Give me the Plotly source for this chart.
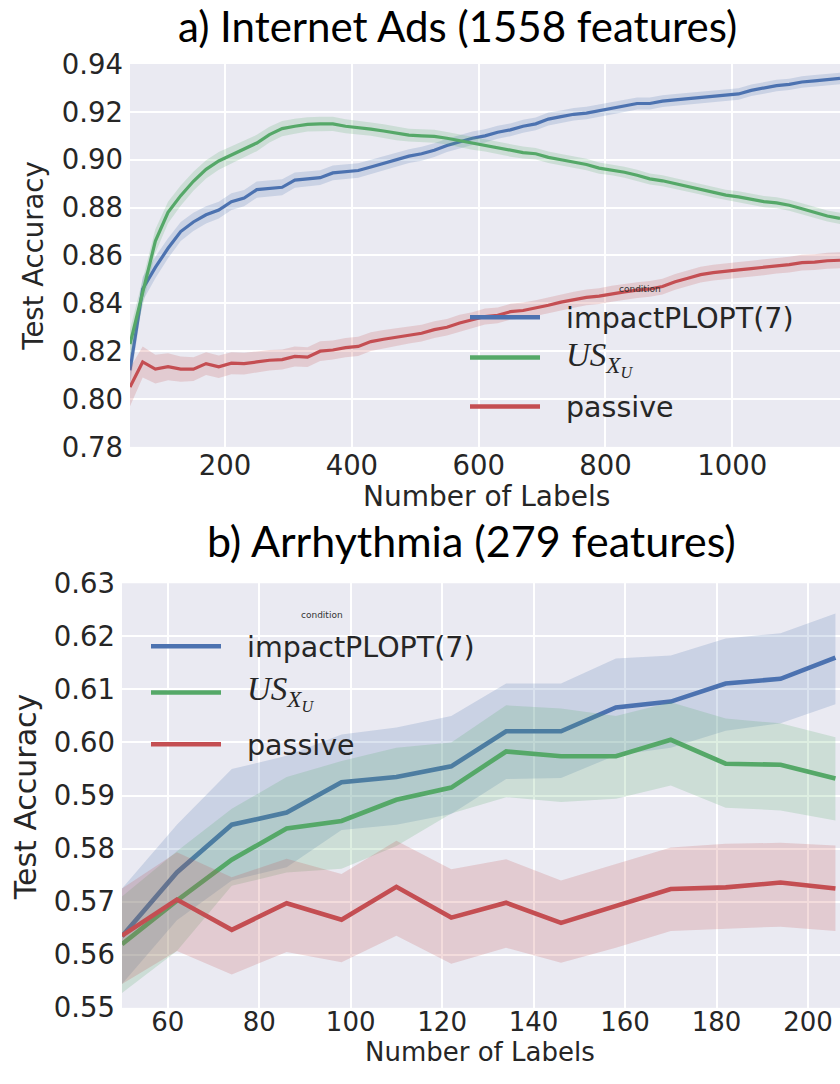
import plotly.graph_objects as go

# ---------------- a) Internet Ads ----------------
labels_a = list(range(50, 1171, 20))

impact_a = [0.812, 0.846, 0.855, 0.863, 0.870, 0.874, 0.877, 0.879, 0.8825, 0.884,
            0.8875, 0.888, 0.8885, 0.8915, 0.892, 0.8925, 0.8945, 0.895, 0.8955, 0.897,
            0.8985, 0.900, 0.9015, 0.9025, 0.904, 0.906, 0.9075, 0.909, 0.910, 0.9115,
            0.9125, 0.914, 0.915, 0.917, 0.918, 0.919, 0.9195, 0.9205, 0.9215, 0.9225,
            0.9235, 0.9235, 0.9245, 0.925, 0.9255, 0.926, 0.9265, 0.927, 0.9275, 0.929,
            0.930, 0.931, 0.9315, 0.9325, 0.933, 0.9335, 0.934]
impact_a_ci = [0.006, 0.005, 0.0045, 0.0042, 0.004, 0.0038, 0.0036, 0.0035, 0.0035, 0.0034,
               0.0034, 0.0033, 0.0033, 0.0032, 0.0032, 0.0031, 0.0031, 0.003, 0.003, 0.003,
               0.003, 0.003, 0.0029, 0.0029, 0.0029, 0.0028, 0.0028, 0.0028, 0.0028, 0.0027,
               0.0027, 0.0027, 0.0027, 0.0027, 0.0026, 0.0026, 0.0026, 0.0026, 0.0026, 0.0025,
               0.0025, 0.0025, 0.0025, 0.0025, 0.0025, 0.0025, 0.0024, 0.0024, 0.0024, 0.0024,
               0.0024, 0.0024, 0.0024, 0.0024, 0.0024, 0.0024, 0.0024]

us_a = [0.823, 0.845, 0.866, 0.878, 0.885, 0.891, 0.896, 0.8995, 0.902, 0.9045,
        0.907, 0.9105, 0.913, 0.914, 0.9148, 0.915, 0.915, 0.914, 0.9135, 0.9128,
        0.912, 0.911, 0.9103, 0.910, 0.9098, 0.909, 0.908, 0.9068, 0.906, 0.905,
        0.9038, 0.903, 0.9025, 0.901, 0.900, 0.899, 0.898, 0.8965, 0.8958, 0.8948,
        0.8935, 0.892, 0.8912, 0.890, 0.889, 0.8878, 0.8865, 0.8852, 0.8845, 0.8835,
        0.8825, 0.882, 0.881, 0.8795, 0.878, 0.8765, 0.8755]
us_a_ci = [0.006, 0.0055, 0.005, 0.0045, 0.0042, 0.004, 0.0038, 0.0037, 0.0036, 0.0035,
           0.0034, 0.0033, 0.0032, 0.0031, 0.003, 0.003, 0.003, 0.0029, 0.0029, 0.0028,
           0.0028, 0.0028, 0.0027, 0.0027, 0.0027, 0.0026, 0.0026, 0.0026, 0.0025, 0.0025,
           0.0025, 0.0025, 0.0024, 0.0024, 0.0024, 0.0024, 0.0024, 0.0023, 0.0023, 0.0023,
           0.0023, 0.0023, 0.0023, 0.0023, 0.0023, 0.0023, 0.0023, 0.0023, 0.0023, 0.0023,
           0.0023, 0.0023, 0.0023, 0.0023, 0.0023, 0.0023, 0.0023]

passive_a = [0.805, 0.8155, 0.8125, 0.8135, 0.8125, 0.8125, 0.8148, 0.8135, 0.815, 0.8148,
             0.8155, 0.8162, 0.8165, 0.8178, 0.8175, 0.820, 0.8205, 0.8215, 0.822, 0.824,
             0.825, 0.8258, 0.8268, 0.8275, 0.829, 0.830, 0.8318, 0.833, 0.8345, 0.835,
             0.8365, 0.837, 0.838, 0.8392, 0.8405, 0.8415, 0.8425, 0.843, 0.844, 0.8448,
             0.8455, 0.846, 0.847, 0.849, 0.8505, 0.852, 0.8528, 0.8535, 0.854, 0.8545,
             0.855, 0.8558, 0.8562, 0.857, 0.8572, 0.8578, 0.858]
passive_a_ci = [0.008, 0.0065, 0.006, 0.0056, 0.0053, 0.005, 0.0048, 0.0047, 0.0046, 0.0045,
                0.0044, 0.0043, 0.0042, 0.0042, 0.0041, 0.0041, 0.004, 0.004, 0.004, 0.0039,
                0.0038, 0.0037, 0.0036, 0.0035, 0.0035, 0.0034, 0.0034, 0.0033, 0.0033, 0.0033,
                0.0033, 0.0033, 0.0033, 0.0033, 0.0033, 0.0033, 0.0033, 0.0033, 0.0033, 0.0033,
                0.0033, 0.0033, 0.0033, 0.0033, 0.0033, 0.0033, 0.0033, 0.0033, 0.0033, 0.0033,
                0.0033, 0.0033, 0.0033, 0.0033, 0.0033, 0.0033, 0.0033]

ticks_a_x = [200, 400, 600, 800, 1000]
ticks_a_y = [0.78, 0.80, 0.82, 0.84, 0.86, 0.88, 0.90, 0.92, 0.94]

# ---------------- b) Arrhythmia ----------------
labels_b = [50, 62, 74, 86, 98, 110, 122, 134, 146, 158, 170, 182, 194, 206]

impact_b = [0.5635, 0.5755, 0.5845, 0.5868, 0.5925, 0.5935, 0.5955, 0.6021, 0.6021, 0.6066,
            0.6077, 0.6111, 0.612, 0.616]
impact_b_hi = [0.5725, 0.5845, 0.5950, 0.5975, 0.6015, 0.6028, 0.6050, 0.6111, 0.6111, 0.6158,
               0.6164, 0.6196, 0.6206, 0.6243]
impact_b_lo = [0.5545, 0.5665, 0.5740, 0.5765, 0.5835, 0.5845, 0.5865, 0.5931, 0.5933, 0.5976,
               0.5990, 0.6022, 0.6036, 0.6072]

us_b = [0.562, 0.5702, 0.5779, 0.5838, 0.5852, 0.5892, 0.5915, 0.5983, 0.5974, 0.5974,
        0.6005, 0.596, 0.5958, 0.5932]
us_b_hi = [0.571, 0.5795, 0.5875, 0.5935, 0.5965, 0.599, 0.600, 0.607, 0.6064, 0.605,
           0.6076, 0.6045, 0.6036, 0.601]
us_b_lo = [0.5528, 0.5607, 0.5730, 0.5755, 0.5762, 0.5805, 0.5866, 0.5897, 0.5888, 0.5894,
           0.5919, 0.5877, 0.5872, 0.5853]

passive_b = [0.5636, 0.5704, 0.5647, 0.5697, 0.5666, 0.5728, 0.567, 0.5698, 0.566, 0.5692,
             0.5724, 0.5727, 0.5736, 0.5725]
passive_b_hi = [0.5725, 0.5793, 0.5746, 0.5781, 0.5752, 0.5815, 0.5761, 0.578, 0.574, 0.5771,
                0.5802, 0.5809, 0.5811, 0.5806]
passive_b_lo = [0.5545, 0.5607, 0.5563, 0.5605, 0.5586, 0.5636, 0.5583, 0.5613, 0.5585, 0.5613,
                0.5645, 0.5649, 0.5653, 0.5645]

ticks_b_x = [60, 80, 100, 120, 140, 160, 180, 200]
ticks_b_y = [0.55, 0.56, 0.57, 0.58, 0.59, 0.60, 0.61, 0.62, 0.63]

series_names = ["impactPLOPT(7)", "US_X_U", "passive"]
series_labels = ["impactPLOPT(7)",
                 "<span style=\"font-family:'Liberation Serif'\"><i>US</i><sub><i>X</i><sub><i>U</i></sub></sub></span>",
                 "passive"]
colors = ["#4C72B0", "#55A868", "#C44E52"]

W, H = 840, 1084
BG = "#EAEAF2"
TXT = "#262626"
SANS = "DejaVu Sans"


def rgba(hex_color, a):
    h = hex_color.lstrip("#")
    r, g, b = int(h[0:2], 16), int(h[2:4], 16), int(h[4:6], 16)
    return f"rgba({r},{g},{b},{a})"


def px(x):
    return x / W


def py(y):
    return 1 - y / H


fig = go.Figure()


def add_series(x, y, lo, hi, color, name, xa, ya, width):
    fig.add_trace(go.Scatter(
        x=x + x[::-1], y=hi + lo[::-1], fill="toself",
        fillcolor=rgba(color, 0.2), line=dict(width=0),
        hoverinfo="skip", showlegend=False, xaxis=xa, yaxis=ya))
    fig.add_trace(go.Scatter(
        x=x, y=y, mode="lines", name=name,
        line=dict(color=color, width=width),
        showlegend=False, xaxis=xa, yaxis=ya))


top_series = [(impact_a, impact_a_ci), (us_a, us_a_ci), (passive_a, passive_a_ci)]
for (vals, ci), color, name in zip(top_series, colors, series_names):
    lo = [v - c for v, c in zip(vals, ci)]
    hi = [v + c for v, c in zip(vals, ci)]
    add_series(labels_a, vals, lo, hi, color, name, "x", "y", 3.2)

bottom_series = [(impact_b, impact_b_lo, impact_b_hi),
                 (us_b, us_b_lo, us_b_hi),
                 (passive_b, passive_b_lo, passive_b_hi)]
for (vals, lo, hi), color, name in zip(bottom_series, colors, series_names):
    add_series(labels_b, vals, lo, hi, color, name, "x2", "y2", 4.6)

axis_common = dict(
    showgrid=True, gridcolor="white", gridwidth=1.6, zeroline=False,
    showline=False, ticks="",
)
tick_font = dict(family=SANS, size=27.5, color=TXT)

# panel boxes (px from the top-left corner of the page)
TOP_PANEL = dict(left=130, top=49.5, bottom=444)
BOTTOM_PANEL = dict(left=122, top=584.5, bottom=1022)

fig.update_layout(
    width=W, height=H,
    margin=dict(l=0, r=0, t=0, b=0),
    paper_bgcolor="white", plot_bgcolor=BG,
    showlegend=False,
    xaxis=dict(domain=[px(TOP_PANEL["left"]), 1], range=[50, 1170], tickvals=ticks_a_x,
               anchor="y", ticklabelstandoff=0, tickfont=tick_font, **axis_common),
    yaxis=dict(domain=[py(TOP_PANEL["bottom"]), py(TOP_PANEL["top"])], range=[0.78, 0.94],
               tickvals=ticks_a_y, tickformat=".2f", anchor="x", ticklabelstandoff=6,
               tickfont=tick_font, **axis_common),
    xaxis2=dict(domain=[px(BOTTOM_PANEL["left"]), 1], range=[50, 207], tickvals=ticks_b_x,
                anchor="y2", ticklabelstandoff=-4,
                tickfont=dict(family=SANS, size=26, color=TXT), **axis_common),
    yaxis2=dict(domain=[py(BOTTOM_PANEL["bottom"]), py(BOTTOM_PANEL["top"])],
                range=[0.55, 0.63], tickvals=ticks_b_y, tickformat=".2f", anchor="x2",
                ticklabelstandoff=6, tickfont=tick_font, **axis_common),
)

annotations = []


def text(x, y, s, size, family=SANS, color=TXT, xanchor="center", yanchor="middle",
         angle=0, pad=1):
    annotations.append(dict(
        x=px(x), y=py(y), xref="paper", yref="paper", text=s, showarrow=False,
        xanchor=xanchor, yanchor=yanchor, textangle=angle, borderpad=pad,
        font=dict(family=family, size=size, color=color)))


# panel titles
text(458, 10, "a) Internet Ads (1558 features)", 42, family="Lato", color="black")
text(471, 540, "b) Arrhythmia (279 features)", 43, family="Lato", color="black")

# axis titles
text(33, 248, "Test Accuracy", 27.5, angle=-90)
text(25, 805, "Test Accuracy", 30, angle=-90)
text(486, 495.5, "Number of Labels", 28)
text(480, H, "Number of Labels", 26, yanchor="bottom", pad=0)

shapes = []


def legend(x0, ys, title_xy):
    text(title_xy[0], title_xy[1], "condition", 9, color="#333333")
    for yy, color, label in zip(ys, colors, series_labels):
        shapes.append(dict(type="line", xref="paper", yref="paper",
                           x0=px(x0), x1=px(x0 + 70), y0=py(yy), y1=py(yy),
                           line=dict(color=color, width=4.5), layer="above"))
        size = 33 if "US" in label else 28.5
        text(x0 + 94, yy + 1, label, size, xanchor="left")


legend(470, [310.5, 352, 402.5], (640, 281))
legend(151, [649.5, 697, 750.5], (322, 617))

fig.update_layout(annotations=annotations, shapes=shapes)

fig.write_html("out.html")
